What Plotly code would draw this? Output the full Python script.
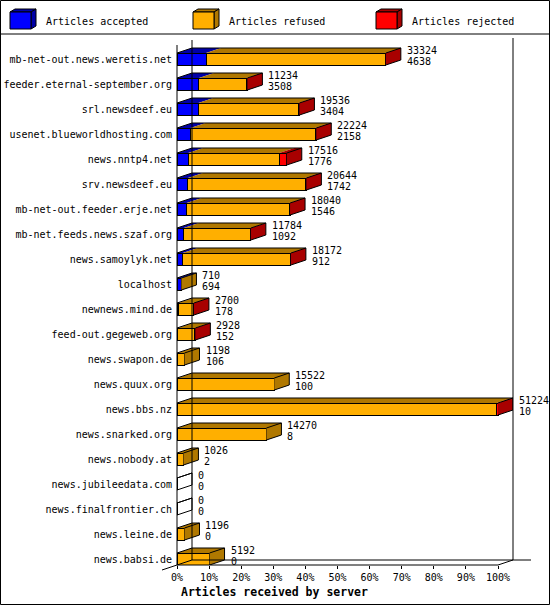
import plotly.graph_objects as go

# data
servers = [
    "mb-net-out.news.weretis.net", "feeder.eternal-september.org", "srl.newsdeef.eu",
    "usenet.blueworldhosting.com", "news.nntp4.net", "srv.newsdeef.eu",
    "mb-net-out.feeder.erje.net", "mb-net.feeds.news.szaf.org", "news.samoylyk.net",
    "localhost", "newnews.mind.de", "feed-out.gegeweb.org", "news.swapon.de",
    "news.quux.org", "news.bbs.nz", "news.snarked.org", "news.nobody.at",
    "news.jubileedata.com", "news.finalfrontier.ch", "news.leine.de", "news.babsi.de",
]
total = [33324, 11234, 19536, 22224, 17516, 20644, 18040, 11784, 18172, 710, 2700,
         2928, 1198, 15522, 51224, 14270, 1026, 0, 0, 1196, 5192]
accepted = [4638, 3508, 3404, 2158, 1776, 1742, 1546, 1092, 912, 694, 178,
            152, 106, 100, 10, 8, 2, 0, 0, 0, 0]
# rejected is not printed, estimated from the red parts of the bars
rejected = [100, 100, 150, 200, 1190, 200, 100, 30, 100, 0, 80,
            60, 0, 0, 200, 0, 0, 0, 0, 0, 0]
refused = [t - a - r for t, a, r in zip(total, accepted, rejected)]

BLUE, DBLUE = "#0000ff", "#0000a8"
ORANGE, DORANGE = "#ffaf00", "#b07800"
RED, DRED = "#ff0000", "#a80000"
FONT = "DejaVu Sans Mono"

W, H = 550, 605
L, R, T, B = 177, 37, 40, 40
PW, PH = W - L - R, H - T - B
XPX = 3.21           # pixels per percent
ROW = 25             # pixels per server row
XMAX = PW / XPX
YTOP = -0.76
YBOT = YTOP + PH / ROW
DX = 15 / XPX        # depth of the 3d effect
DY = 5 / ROW
HB = 6 / ROW         # half bar height

top_total = max(total)
pct = lambda v: v / top_total * 100
acc_p = [pct(v) for v in accepted]
ref_p = [pct(v) for v in refused]
rej_p = [pct(v) for v in rejected]
tot_p = [pct(v) for v in total]
idx = list(range(len(servers)))


def px(x):
    return (x - L) / PW


def py(y):
    return 1 - (y - T) / PH


fig = go.Figure()

for name, vals, col in [("Articles accepted", acc_p, BLUE),
                        ("Articles refused", ref_p, ORANGE),
                        ("Articles rejected", rej_p, RED)]:
    fig.add_trace(go.Bar(y=idx, x=vals, orientation="h", width=2 * HB, name=name,
                         marker=dict(color=col, line=dict(color="black", width=1)),
                         hoverinfo="skip", showlegend=False))

# top faces of every segment, side face of the last one
faces = {DBLUE: ([], []), DORANGE: ([], []), DRED: ([], [])}
outline_x, outline_y = [], []
for i in idx:
    a, r, t = acc_p[i], ref_p[i], tot_p[i]
    y0 = i - HB
    for s0, s1, c in [(0, a, DBLUE), (a, a + r, DORANGE), (a + r, t, DRED)]:
        if s1 > s0:
            faces[c][0].extend([s0, s1, s1 + DX, s0 + DX, s0, None])
            faces[c][1].extend([y0, y0, y0 - DY, y0 - DY, y0, None])
    if t > 0:
        side = DRED if rejected[i] > 0 else DORANGE
        faces[side][0].extend([t, t + DX, t + DX, t, t, None])
        faces[side][1].extend([y0, y0 - DY, i + HB - DY, i + HB, y0, None])
    outline_x.extend([0, DX, t + DX, t + DX, t, None, t, t + DX, None])
    outline_y.extend([y0, y0 - DY, y0 - DY, i + HB - DY, i + HB, None, y0, y0 - DY, None])

for c, (xs, ys) in faces.items():
    fig.add_trace(go.Scatter(x=xs, y=ys, mode="none", fill="toself", fillcolor=c,
                             hoverinfo="skip", showlegend=False))
fig.add_trace(go.Scatter(x=outline_x, y=outline_y, mode="lines",
                         line=dict(color="black", width=1), hoverinfo="skip",
                         showlegend=False))

# value labels: total and accepted
for i in idx:
    for txt, sh in [(total[i], 9), (accepted[i], -2)]:
        fig.add_annotation(x=tot_p[i], y=i, text=str(txt), showarrow=False,
                           xanchor="left", yanchor="middle", xshift=19, yshift=sh,
                           font=dict(family=FONT, size=10, color="black"))

shapes = []


def line(x0, y0, x1, y1):
    shapes.append(dict(type="line", xref="paper", yref="paper", x0=px(x0), y0=py(y0),
                       x1=px(x1), y1=py(y1), line=dict(color="black", width=1)))


# outer frame and legend separator
shapes.append(dict(type="rect", xref="paper", yref="paper", x0=px(0.5), y0=py(0.5),
                   x1=px(W - 0.5), y1=py(H - 0.5), line=dict(color="black", width=1)))
line(0, 34, W, 34)

# 3d axis frame
x100 = L + 100 * XPX
line(L, 45, L, T + PH)
line(L + 15, T, L + 15, T + PH - 5)
line(x100 + 15, T - 2, x100 + 15, T + PH - 5)
line(L, T + PH, x100, T + PH)
line(L - 15, T + PH + 5, L + 15, T + PH - 5)
line(x100, T + PH, x100 + 15, T + PH - 5)
line(L + 15, T + PH - 5, x100 + 33, T + PH - 5)

# legend with little cubes
legend_items = [("Articles accepted", BLUE, DBLUE, 10),
                ("Articles refused", ORANGE, DORANGE, 193),
                ("Articles rejected", RED, DRED, 376)]
for label, c, dc, x0 in legend_items:
    x1, y0, y1, dx, dy = x0 + 21, 12, 29, 5, -3
    top = f"M{px(x0)},{py(y0)} L{px(x1)},{py(y0)} L{px(x1 + dx)},{py(y0 + dy)} L{px(x0 + dx)},{py(y0 + dy)} Z"
    side = f"M{px(x1)},{py(y0)} L{px(x1 + dx)},{py(y0 + dy)} L{px(x1 + dx)},{py(y1 + dy)} L{px(x1)},{py(y1)} Z"
    for p in (top, side):
        shapes.append(dict(type="path", xref="paper", yref="paper", path=p,
                           fillcolor=dc, line=dict(color="black", width=1)))
    shapes.append(dict(type="rect", xref="paper", yref="paper", x0=px(x0), y0=py(y0),
                       x1=px(x1), y1=py(y1), fillcolor=c,
                       line=dict(color="black", width=1)))
    fig.add_annotation(xref="paper", yref="paper", x=px(x0 + 34), y=py(21), text=label,
                       showarrow=False, xanchor="left", yanchor="middle",
                       font=dict(family=FONT, size=10, color="black"))

fig.add_annotation(xref="paper", yref="paper", x=px(179), y=py(592),
                   text="<b>Articles received by server</b>", showarrow=False,
                   xanchor="left", yanchor="middle",
                   font=dict(family=FONT, size=11.5, color="black"))

fig.update_layout(
    width=W, height=H,
    margin=dict(l=L, r=R, t=T, b=B),
    barmode="stack",
    plot_bgcolor="white",
    paper_bgcolor="white",
    shapes=shapes,
    showlegend=False,
    font=dict(family=FONT, size=10, color="black"),
)
fig.update_xaxes(range=[0, XMAX], tickvals=list(range(0, 101, 10)),
                 ticktext=[f"{v}%" for v in range(0, 101, 10)],
                 ticks="outside", ticklen=3, tickcolor="black", automargin=False,
                 showgrid=False, zeroline=False, showline=False, fixedrange=True)
fig.update_yaxes(range=[YBOT, YTOP], tickvals=idx, ticktext=servers, ticks="",
                 ticklabelstandoff=4, automargin=False, showgrid=False,
                 zeroline=False, showline=False, fixedrange=True)

fig.write_html("out.html", config={"displayModeBar": False},
               post_script="document.body.style.margin='0';")
